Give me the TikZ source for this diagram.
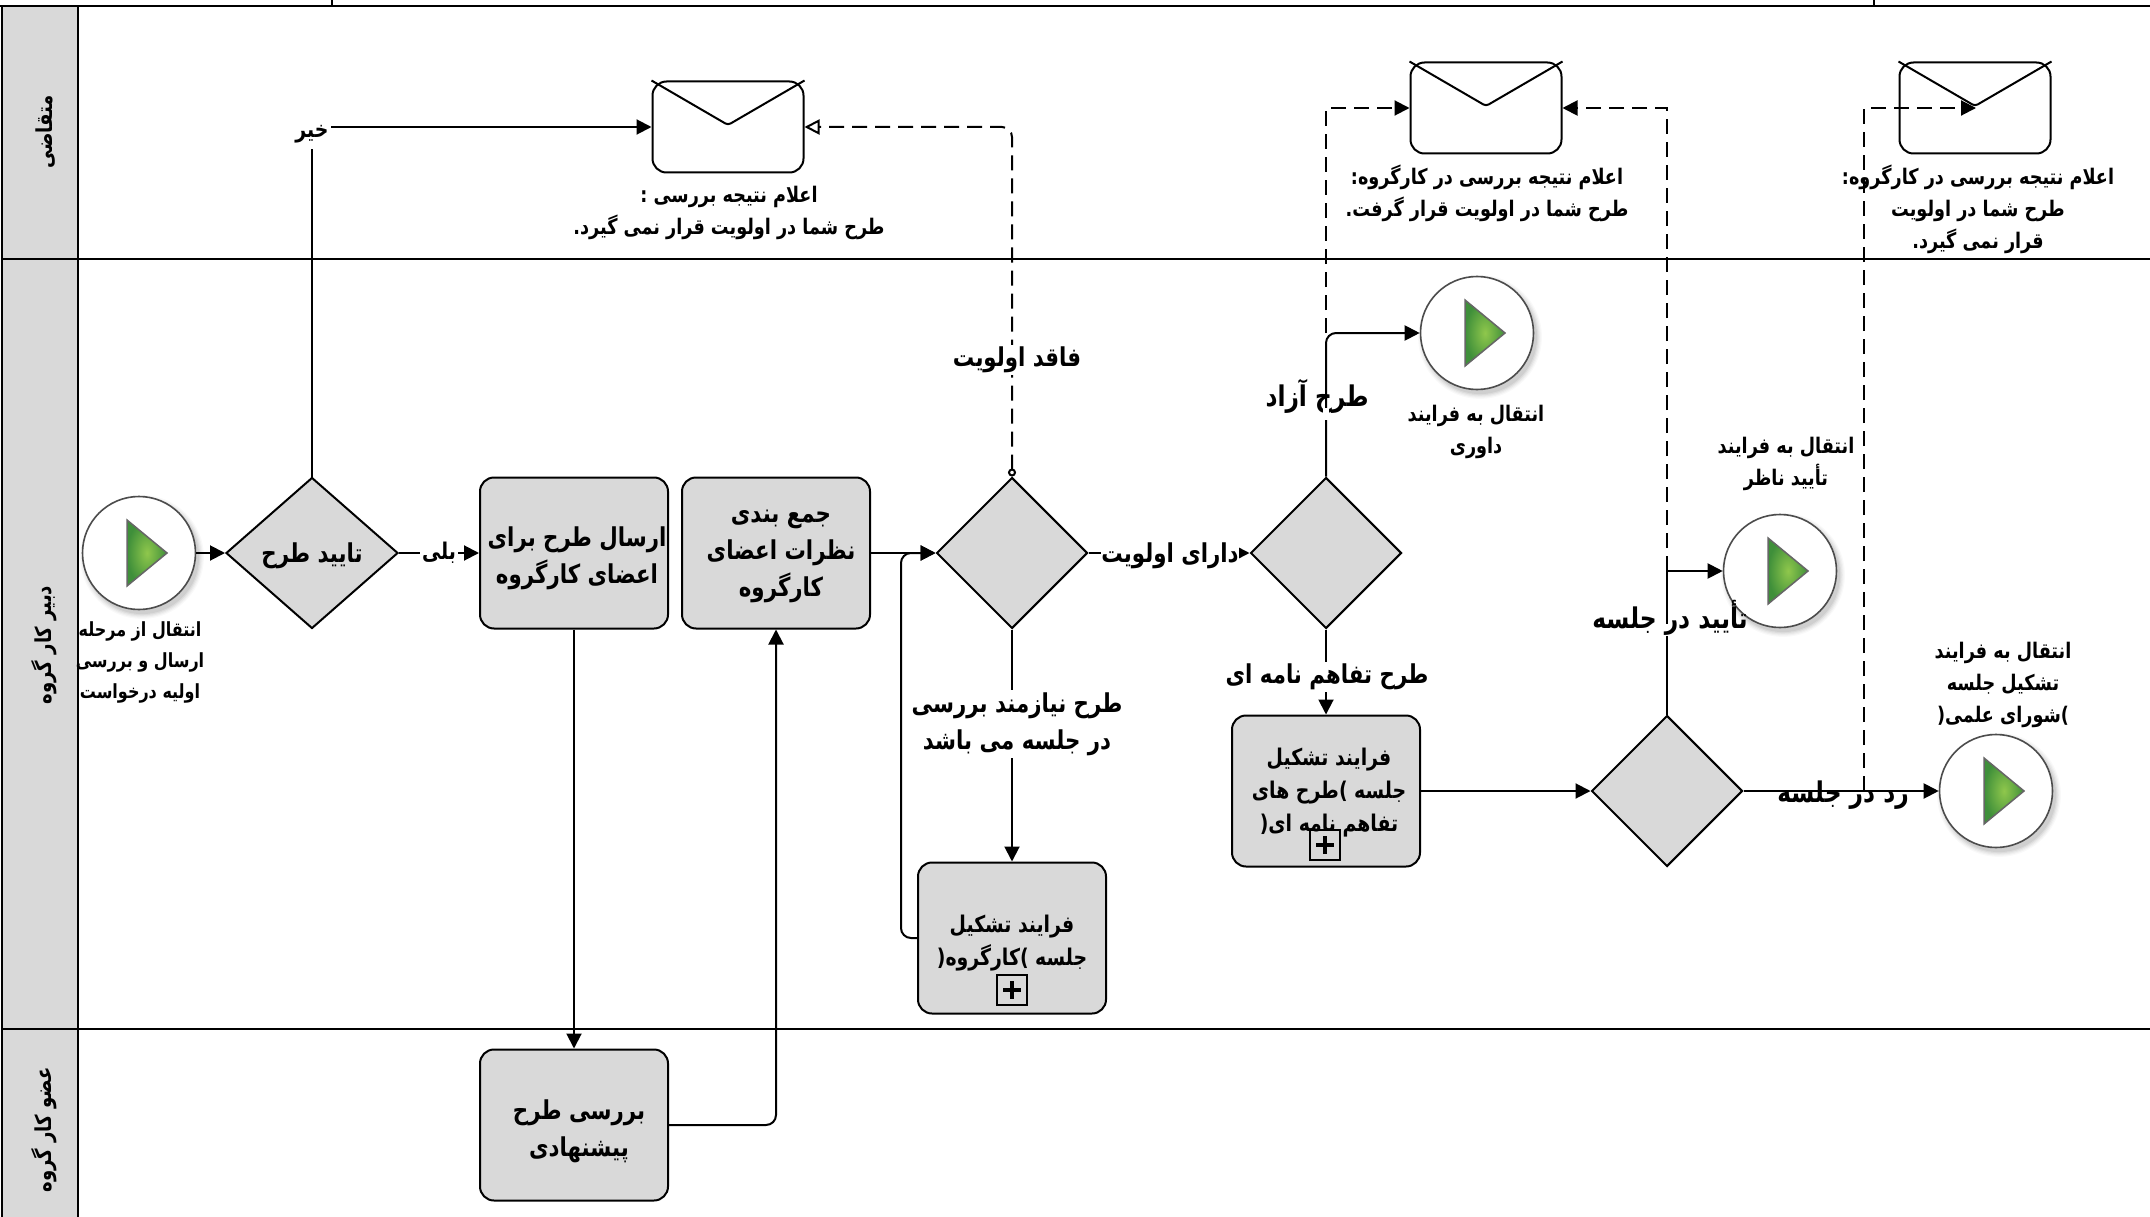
\documentclass[tikz,border=0pt]{standalone}
\usepackage{fontspec}
\usetikzlibrary{shapes.geometric,arrows.meta,calc}
\TeXXeTstate=1
\newfontfamily\fa[Script=Arabic,FakeStretch=0.82]{DejaVu Sans}
\newcommand{\rt}[1]{\beginR #1\endR}
\definecolor{panel}{HTML}{D9D9D9}
\definecolor{gdark}{HTML}{3F8F3A}
\definecolor{glight}{HTML}{8FC74C}
\tikzset{
  x=1pt,y=-1pt,
  lanerule/.style={line width=2.4pt,black},
  gate/.style={draw=black,line width=2pt,fill=panel,diamond,inner sep=0pt,shape aspect=1},
  gatea/.style={gate,minimum width=172pt,minimum height=151pt},
  gateb/.style={gate,minimum width=151pt,minimum height=151pt},
  task/.style={draw=black,line width=2pt,fill=panel,rectangle,rounded corners=14pt,minimum width=188pt,minimum height=151pt,inner sep=0pt},
  mail/.style={draw=black,line width=2pt,fill=white,rectangle,rounded corners=14pt,minimum width=151pt,minimum height=91pt,inner sep=0pt},
  evt/.style={draw=black!70,line width=1.6pt,fill=white,circle,minimum size=113pt,inner sep=0pt},
  conn/.style={line width=2pt,rounded corners=10pt,-{Triangle[length=15pt,width=15pt]}},
  plain/.style={line width=2pt},
  dashline/.style={line width=2pt,dash pattern=on 15pt off 8pt},
  tlarge/.style={font=\fa\bfseries\fontsize{28.5}{37}\selectfont,align=center,inner sep=0pt},
  tbig/.style={font=\fa\bfseries\fontsize{26}{37}\selectfont,align=center,inner sep=0pt},
  tmid/.style={font=\fa\bfseries\fontsize{23}{33}\selectfont,align=center,inner sep=0pt},
  tnote/.style={font=\fa\bfseries\fontsize{21.5}{32}\selectfont,align=center,inner sep=0pt},
  tsmall/.style={font=\fa\bfseries\fontsize{19.5}{31}\selectfont,align=center,inner sep=0pt},
  bgw/.style={fill=white,inner sep=2pt},
  marker/.style={draw=black,fill=none,rectangle,minimum size=30pt,inner sep=0pt},
  lanetext/.style={font=\fa\bfseries\fontsize{22}{26}\selectfont,rotate=90,inner sep=0pt}
}
\newcommand{\startmark}[1]{%
  \foreach \k/\o in {9/.025,7/.03,5/.04,3/.05,1/.06}{\fill[black,opacity=\o] ($(#1)+(3,4)$) circle (56.5+\k*0.6);}
}
\newcommand{\playmark}[1]{%
  \draw[draw=black!60,line width=1.5pt,inner color=glight,outer color=gdark] ($(#1)+(-12,-33)$) -- ($(#1)+(28,0)$) -- ($(#1)+(-12,33)$) -- cycle;
}
\begin{document}
\begin{tikzpicture}
\useasboundingbox (0,0) rectangle (2150,1217);
% lanes
\fill[panel] (2,6) rectangle (78,1217);
\draw[line width=2pt] (2,1217) -- (2,6);
\draw[line width=2pt] (78,6) -- (78,1217);
\draw[lanerule] (0,6) -- (2150,6);
\draw[lanerule] (2,259) -- (2150,259);
\draw[lanerule] (2,1029) -- (2150,1029);
\draw[line width=1.6pt] (332,0) -- (332,6);
\draw[line width=1.6pt] (1874,0) -- (1874,6);
\node[lanetext] (la) at (46,132) {\rt{متقاضی}};
\node[lanetext] (lb) at (44,645) {\rt{دبیر  کار گروه}};
\node[lanetext] (lc) at (44,1130) {\rt{عضو  کار گروه}};
% shapes
\startmark{139,553}
\startmark{1477,333}
\startmark{1780,571}
\startmark{1996,791}
\node[evt] (s1) at (139,553) {};
\node[evt] (s2) at (1477,333) {};
\node[evt] (s3) at (1780,571) {};
\node[evt] (s4) at (1996,791) {};
\playmark{139,553}
\playmark{1477,333}
\playmark{1780,571}
\playmark{1996,791}
\node[gatea] (d1) at (312,553) {};
\node[gateb] (d2) at (1012,553) {};
\node[gateb] (d3) at (1326,553) {};
\node[gateb] (d4) at (1667,791) {};
\node[task] (b1) at (574,553) {};
\node[task] (b2) at (776,553) {};
\node[task] (b3) at (1012,938) {};
\node[task] (b4) at (574,1125) {};
\node[task] (b5) at (1326,791) {};
\node[mail] (m1) at (728,127) {};
\node[mail] (m2) at (1486,108) {};
\node[mail] (m3) at (1975,108) {};
\draw[plain,rounded corners=3pt] (m1.north west) -- (728,125) -- (m1.north east);
\draw[plain,rounded corners=3pt] (m2.north west) -- (1486,106) -- (m2.north east);
\draw[plain,rounded corners=3pt] (m3.north west) -- (1975,106) -- (m3.north east);
% connectors
\coordinate (c1) at (312,127);
\coordinate (c5s) at (1864,791);
\coordinate (tip3) at (1976,108);
\coordinate (f2) at (1326,333);
\coordinate (f3) at (1667,571);
\coordinate (l1) at (901,938);
\coordinate (l2) at (901,553);
\draw[conn] (s1) -- (d1);
\draw[conn] (d1) -- (b1);
\draw[plain] (d1.north) -- (c1);
\draw[conn] (c1) -- (m1.west);
\draw[conn] (b1) -- (b4);
\draw[conn] (b4.east) -| (b2.south);
\draw[conn] (b2) -- (d2);
\draw[conn] (d2.south) -- (b3.north);
\draw[conn] (b3.west) -- (l1) -- (l2) -- (d2.west);
\draw[conn] (d2) -- (d3);
\draw[conn] (d3.north) |- (s2);
\draw[conn] (d3.south) -- (b5.north);
\draw[conn] (b5) -- (d4);
\draw[conn,rounded corners=0pt] (d4.north) |- (s3);
\draw[conn] (d4) -- (s4);
\draw[dashline,rounded corners=10pt,{Circle[open,length=8pt,width=8pt,fill=white]}-{Triangle[open,length=15pt,width=15pt,fill=white]}] (d2.north) |- (m1.east);
\draw[dashline,-{Triangle[length=15pt,width=15pt]}] (f2) |- (m2.west);
\draw[dashline,-{Triangle[length=15pt,width=15pt]}] (f3) |- (m2.east);
\draw[dashline,-{Triangle[length=15pt,width=15pt]}] (c5s) |- (tip3);
% texts on connectors
\node[tmid,bgw,minimum height=30pt] (t1) at (312,134) {\rt{خیر}};
\node[tmid,bgw] (t2) at (439,553) {\rt{بلی}};
\node[tbig,bgw] (t3) at (1017,360) {\rt{فاقد اولویت}};
\node[tbig,fill=white] (t4) at (1170,556) {\rt{دارای اولویت}};
\node[tlarge] (t5) at (1317,396) {\rt{طرح آزاد}};
\node[fill=white,minimum width=6pt,minimum height=12pt,inner sep=0pt] (g5) at (1326,414) {};
\node[tbig,bgw] (t6) at (1327,677) {\rt{طرح تفاهم نامه ای}};
\node[tbig,bgw] (t7) at (1017,724) {\rt{طرح نیازمند بررسی}\\\rt{در جلسه می باشد}};
\node[fill=white,minimum width=6pt,minimum height=12pt,inner sep=0pt] (g8) at (1667,630) {};
\node[tlarge] (t8) at (1670,618) {\rt{تأیید در جلسه}};
\node[tlarge] (t9) at (1843,795) {\rt{رد در جلسه}};
% box texts
\node[tbig] (x1) at (312,556) {\rt{تایید طرح}};
\node[tbig] (x2) at (577,558) {\rt{ارسال طرح برای}\\\rt{اعضای کارگروه}};
\node[tbig] (x3) at (781,556) {\rt{جمع بندی}\\\rt{نظرات اعضای}\\\rt{کارگروه}};
\node[tbig] (x4) at (579,1131) {\rt{بررسی طرح}\\\rt{پیشنهادی}};
\node[tmid] (x5) at (1012,943) {\rt{فرایند تشکیل}\\\rt{جلسه )کارگروه(}};
\node[tmid] (x6) at (1329,793) {\rt{فرایند تشکیل}\\\rt{جلسه )طرح های}\\\rt{تفاهم نامه ای(}};
% markers
\node[marker,line width=2.4pt] (k1) at (1012,990) {};
\draw[line width=4pt] ($(k1)+(-9,0)$) -- ($(k1)+(9,0)$);
\draw[line width=4pt] ($(k1)+(0,-9)$) -- ($(k1)+(0,9)$);
\node[marker,line width=1.4pt] (k2) at (1325,845) {};
\draw[line width=4pt] ($(k2)+(-9,0)$) -- ($(k2)+(9,0)$);
\draw[line width=4pt] ($(k2)+(0,-9)$) -- ($(k2)+(0,9)$);
% free texts
\node[tnote] (n1) at (729,213) {\rt{اعلام نتیجه بررسی :}\\\rt{طرح شما در اولویت قرار نمی گیرد.}};
\node[tnote] (n2) at (1487,193) {\rt{اعلام نتیجه بررسی در کارگروه:}\\\rt{طرح شما در اولویت قرار گرفت.}};
\node[tnote] (n3) at (1978,209) {\rt{اعلام نتیجه بررسی در کارگروه:}\\\rt{طرح شما در اولویت}\\\rt{قرار نمی گیرد.}};
\node[tsmall] (n4) at (140,662) {\rt{انتقال از مرحله}\\\rt{ارسال و بررسی}\\\rt{اولیه درخواست}};
\node[tnote] (n5) at (1476,432) {\rt{انتقال به فرایند}\\\rt{داوری}};
\node[tnote] (n6) at (1786,464) {\rt{انتقال به فرایند}\\\rt{تأیید ناظر}};
\node[tnote] (n7) at (2003,685) {\rt{انتقال به فرایند}\\\rt{تشکیل جلسه}\\\rt{)شورای علمی(}};
\end{tikzpicture}
\end{document}
